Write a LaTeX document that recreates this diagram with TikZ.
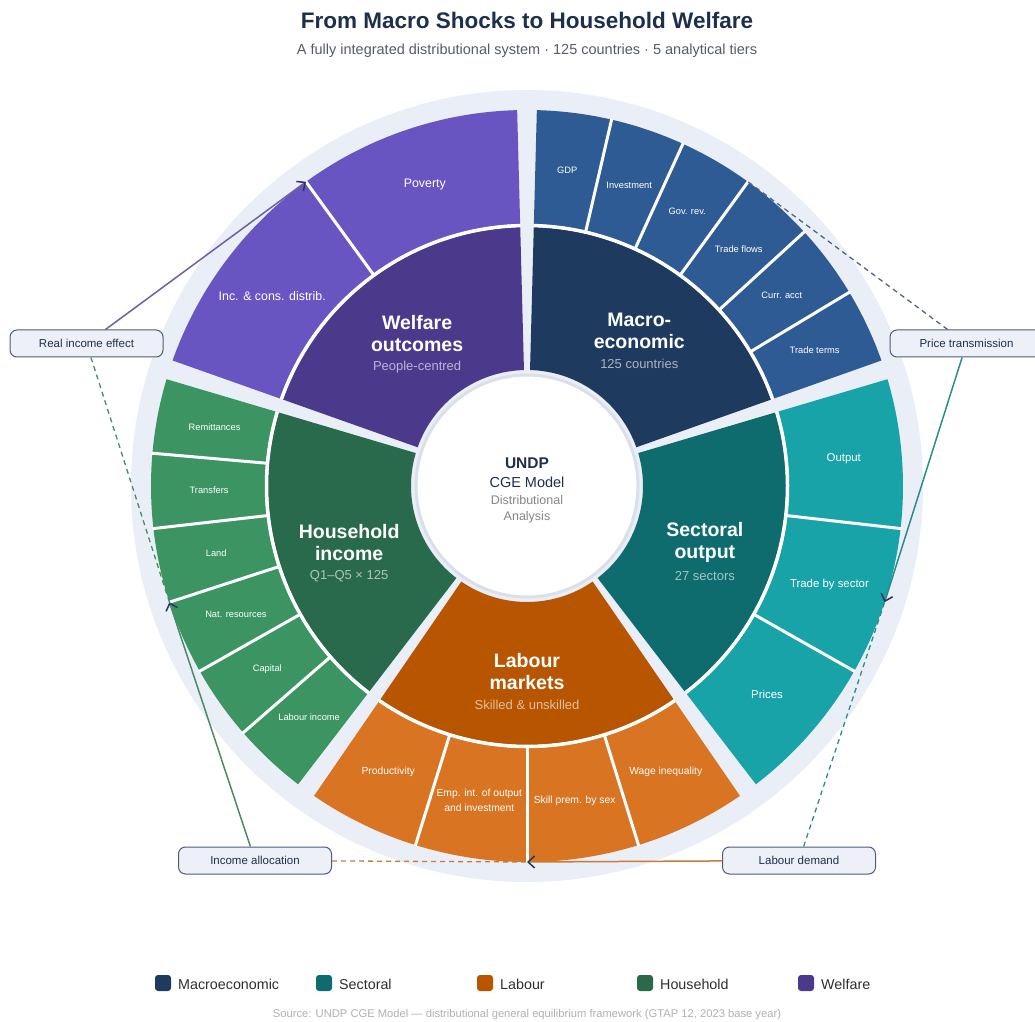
\documentclass[tikz,border=0pt]{standalone}
\usepackage{fontspec}
\setmainfont{Liberation Sans}
\usetikzlibrary{arrows.meta}

% palette
\definecolor{ink}{RGB}{30,47,77}
\definecolor{subgray}{RGB}{85,91,102}
\definecolor{srcgray}{RGB}{176,176,176}
\definecolor{bgring}{RGB}{234,238,246}
\definecolor{hubline}{RGB}{218,223,233}
\definecolor{boxfill}{RGB}{237,240,247}
\definecolor{boxline}{RGB}{78,92,122}
\definecolor{arrowc}{RGB}{40,56,92}
\definecolor{macroI}{RGB}{31,58,95}
\definecolor{macroO}{RGB}{46,91,148}
\definecolor{sectI}{RGB}{14,107,110}
\definecolor{sectO}{RGB}{23,163,168}
\definecolor{labI}{RGB}{184,85,0}
\definecolor{labO}{RGB}{217,116,34}
\definecolor{houseI}{RGB}{40,106,75}
\definecolor{houseO}{RGB}{59,148,98}
\definecolor{welfI}{RGB}{75,58,140}
\definecolor{welfO}{RGB}{105,85,194}
\definecolor{macroL}{RGB}{84,98,128}
\definecolor{sectL}{RGB}{43,140,140}
\definecolor{labL}{RGB}{204,122,53}
\definecolor{houseL}{RGB}{75,139,104}
\definecolor{welfL}{RGB}{110,95,166}

% annular segment: colour, start angle, end angle, inner radius, outer radius
\newcommand\annseg[5]{%
  \fill[#1] (#2:#4) arc[start angle=#2,end angle=#3,radius=#4]
    -- (#3:#5) arc[start angle=#3,end angle=#2,radius=#5] -- cycle;}

% outer ring of one tier: colour, start angle, step, font size, name prefix, labels
\newcommand\tierring[6]{%
  \foreach \lab [count=\k from 0] in {#6} {
    \pgfmathsetmacro\aa{#2+(#3)*\k}
    \pgfmathsetmacro\ab{#2+(#3)*(\k+1)}
    \pgfmathsetmacro\am{#2+(#3)*(\k+0.5)}
    \annseg{#1}{\aa}{\ab}{262}{376}
    \ifnum\k>0 \draw[itemsep] (\aa:260) -- (\aa:377); \fi
    \node[outlab, font=\fontsize{#4}{15}\selectfont] (#5\k) at (\am:318) {\lab};
  }}

\begin{document}
\begin{tikzpicture}[x=1pt,y=1pt,
  itemsep/.style={white, line width=3pt},
  ringsep/.style={white, line width=3.5pt},
  outlab/.style={text=white, align=center, inner sep=1pt},
  ititle/.style={text=white, align=center, inner sep=0pt,
    font=\bfseries\fontsize{19.5}{22}\selectfont},
  isub/.style={inner sep=0pt, font=\fontsize{13}{15}\selectfont},
  callout/.style={draw=boxline, fill=boxfill, line width=1pt, rounded corners=7pt,
    minimum width=153pt, minimum height=27pt, text=ink,
    font=\fontsize{11.5}{13}\selectfont},
  flow/.style={line width=1.5pt, -{Straight Barb[length=6.5pt,width=12pt,color=arrowc]}},
  dflow/.style={line width=1.3pt, dash pattern=on 5pt off 4pt},
  legsq/.style={minimum size=16pt, inner sep=0pt, rounded corners=3pt},
  leglab/.style={anchor=west, inner sep=0pt, text=black!82,
    font=\fontsize{14.3}{16}\selectfont}]

\useasboundingbox (0,0) rectangle (1035,1021);

% heading
\node[text=ink, font=\bfseries\fontsize{22.5}{27}\selectfont] (title) at (527,1001)
  {From Macro Shocks to Household Welfare};
\node[text=subgray, font=\fontsize{14.5}{17}\selectfont] (subtitle) at (527,970)
  {A fully integrated distributional system · 125 countries · 5 analytical tiers};

\begin{scope}[shift={(527,535)}]
  % backdrop disc
  \fill[bgring] (0,0) circle[radius=396];

  % inner ring: the five tiers
  \annseg{macroI}{88.5}{19.5}{116}{259}
  \annseg{sectI}{16.5}{-52.5}{116}{259}
  \annseg{labI}{-55.5}{-124.5}{116}{259}
  \annseg{houseI}{163.5}{232.5}{116}{259}
  \annseg{welfI}{91.5}{160.5}{116}{259}

  % outer ring: indicators of each tier
  \tierring{macroO}{88.5}{-11.5}{9.3}{mac}{GDP,Investment,Gov. rev.,Trade flows,Curr. acct,Trade terms}
  \tierring{sectO}{16.5}{-23}{11.4}{sec}{Output,Trade by sector,Prices}
  \tierring{labO}{-124.5}{17.25}{10.3}{lab}{Productivity,{Emp. int. of output\\and investment},Skill prem. by sex,Wage inequality}
  \tierring{houseO}{163.5}{11.5}{9.3}{hou}{Remittances,Transfers,Land,Nat. resources,Capital,Labour income}
  \tierring{welfO}{91.5}{34.5}{12.4}{wel}{Poverty,Inc. \& cons. distrib.}

  % white seams between the two rings
  \draw[ringsep] (88.5:260.5) arc[start angle=88.5,end angle=19.5,radius=260.5];
  \draw[ringsep] (16.5:260.5) arc[start angle=16.5,end angle=-52.5,radius=260.5];
  \draw[ringsep] (-55.5:260.5) arc[start angle=-55.5,end angle=-124.5,radius=260.5];
  \draw[ringsep] (163.5:260.5) arc[start angle=163.5,end angle=232.5,radius=260.5];
  \draw[ringsep] (91.5:260.5) arc[start angle=91.5,end angle=160.5,radius=260.5];

  % tier titles
  \node[ititle, yshift=1pt] (macT) at (54:191) {Macro-\\economic};
  \node[isub, text=white!62!macroI, yshift=-32pt] (macS) at (54:191) {125 countries};
  \node[ititle, yshift=1pt] (secT) at (-18:187) {Sectoral\\output};
  \node[isub, text=white!62!sectI, yshift=-32pt] (secS) at (-18:187) {27 sectors};
  \node[ititle, yshift=1pt] (labT) at (-90:187) {Labour\\markets};
  \node[isub, text=white!62!labI, yshift=-32pt] (labS) at (-90:187) {Skilled \& unskilled};
  \node[ititle, yshift=1pt] (houT) at (198:187) {Household\\income};
  \node[isub, text=white!62!houseI, yshift=-32pt] (houS) at (198:187) {Q1–Q5 × 125};
  \node[ititle, yshift=1pt] (welT) at (126:187) {Welfare\\outcomes};
  \node[isub, text=white!62!welfI, yshift=-32pt] (welS) at (126:187) {People-centred};

  % hub
  \fill[white] (0,0) circle[radius=111];
  \draw[hubline, line width=3pt] (0,0) circle[radius=111];
  \node[text=ink, font=\bfseries\fontsize{15.5}{18}\selectfont] (hubA) at (0,23) {UNDP};
  \node[text=ink, font=\fontsize{14.5}{17}\selectfont] (hubB) at (0,4) {CGE Model};
  \node[text=black!48, font=\fontsize{12.5}{15}\selectfont] (hubC) at (0,-14) {Distributional};
  \node[text=black!48, font=\fontsize{12.5}{15}\selectfont] (hubD) at (0,-31) {Analysis};

  % connector anchors on the rim of each tier
  \coordinate (tM) at (54:376);
  \coordinate (tS) at (-18:376);
  \coordinate (tL) at (-90:376);
  \coordinate (tH) at (198:376);
  \coordinate (tW) at (126:376);
\end{scope}

% transmission channels
\node[callout] (rie) at (86.5,677.5) {Real income effect};
\node[callout] (ptr) at (966.5,677.5) {Price transmission};
\node[callout] (ial) at (255,160.5) {Income allocation};
\node[callout] (ldm) at (799,160.5) {Labour demand};

\draw[dflow, houseL] (rie) -- (tH);
\draw[dflow, macroL] (ptr) -- (tM);
\draw[dflow, labL] (ial) -- (tL);
\draw[dflow, sectL] (ldm) -- (tS);
\draw[flow, welfL] (rie) -- (tW);
\draw[flow, sectL] (ptr) -- (tS);
\draw[flow, houseL] (ial) -- (tH);
\draw[flow, labL] (ldm) -- (tL);

% legend
\node[legsq, fill=macroI] (lg1) at (163,38) {};
\node[leglab] (lt1) at (178,37) {Macroeconomic};
\node[legsq, fill=sectI] (lg2) at (324,38) {};
\node[leglab] (lt2) at (339,37) {Sectoral};
\node[legsq, fill=labI] (lg3) at (485,38) {};
\node[leglab] (lt3) at (500,37) {Labour};
\node[legsq, fill=houseI] (lg4) at (645,38) {};
\node[leglab] (lt4) at (660,37) {Household};
\node[legsq, fill=welfI] (lg5) at (806,38) {};
\node[leglab] (lt5) at (821,37) {Welfare};

\node[text=srcgray, font=\fontsize{11.2}{13}\selectfont] (src) at (527,6)
  {Source: UNDP CGE Model — distributional general equilibrium framework (GTAP 12, 2023 base year)};
\end{tikzpicture}
\end{document}
